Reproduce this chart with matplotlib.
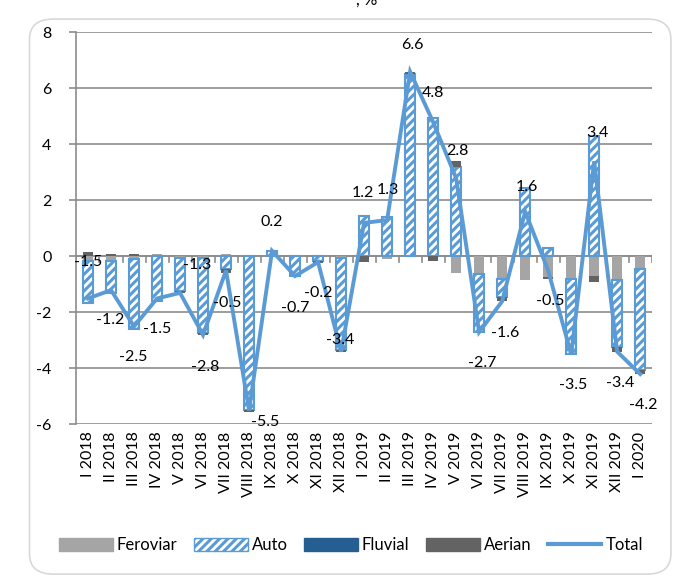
import matplotlib
matplotlib.use("Agg")
import matplotlib.pyplot as plt
import numpy as np
from matplotlib.patches import FancyBboxPatch, Patch
from matplotlib.lines import Line2D

plt.rcParams['font.family'] = ['Lato', 'DejaVu Sans']
plt.rcParams['hatch.linewidth'] = 2.2

months = ["I 2018", "II 2018", "III 2018", "IV 2018", "V 2018", "VI 2018",
          "VII 2018", "VIII 2018", "IX 2018", "X 2018", "XI 2018", "XII 2018",
          "I 2019", "II 2019", "III 2019", "IV 2019", "V 2019", "VI 2019",
          "VII 2019", "VIII 2019", "IX 2019", "X 2019", "XI 2019", "XII 2019",
          "I 2020"]

feroviar = [-0.15, -0.15, -0.1, 0.1, -0.05, -0.05, 0.1, 0.05, 0.0, 0.0, 0.05, -0.05,
            0.0, -0.1, 0.0, 0.0, -0.6, -0.62, -0.8, -0.85, -0.75, -0.8, -0.7, -0.85, -0.45]
auto = [-1.5, -1.15, -2.5, -1.6, -1.2, -2.7, -0.45, -5.5, 0.2, -0.7, -0.15, -3.3,
        1.45, 1.4, 6.5, 4.95, 3.2, -2.08, -0.65, 2.45, 0.3, -2.7, 4.3, -2.4, -3.6]
fluvial = [0.0] * 25
aerian = [0.15, 0.1, 0.1, 0.0, -0.05, -0.05, -0.15, -0.05, 0.0, 0.0, -0.1, -0.05,
          -0.2, 0.0, 0.1, -0.15, 0.2, 0.0, -0.15, 0.0, -0.05, 0.0, -0.2, -0.15, -0.15]
total = [-1.5, -1.2, -2.5, -1.5, -1.3, -2.8, -0.5, -5.5, 0.2, -0.7, -0.2, -3.4,
         1.2, 1.3, 6.6, 4.8, 2.8, -2.7, -1.6, 1.6, -0.5, -3.5, 3.4, -3.4, -4.2]

# label placement offsets (category units, value units) relative to each Total point
label_dx = [0.0, -0.04, -0.04, 0.0, 0.74, 0.09, 0.04, 0.7, 0.0, 0.0, 0.0, -0.04,
            -0.04, 0.04, 0.09, 0.0, 0.04, 0.13, 0.13, 0.09, 0.09, 0.09, 0.13, 0.13, 0.13]
label_dy = [1.29, -1.07, -1.1, -1.1, 1.0, -1.15, -1.16, -0.4, 1.03, -1.14, -1.1, 0.42,
            1.07, 1.08, 0.95, 1.04, 0.97, -1.1, -1.15, 0.88, -1.1, -1.1, 1.0, -1.12, -1.1]

C_FER = '#A5A5A5'
C_AUTO = '#5B9BD5'
C_FLU = '#255E91'
C_AER = '#636363'

fig = plt.figure(figsize=(6.86, 5.77), dpi=100)
# rounded outer frame
frame = FancyBboxPatch((0.043, 0.005), 0.935, 0.962, boxstyle="round,pad=0,rounding_size=0.035",
                       transform=fig.transFigure, facecolor='white', edgecolor='#D9D9D9',
                       linewidth=1.2, zorder=-10)
fig.patches.append(frame)

# title cut off by the top edge of the picture (only the lowest part is visible)
fig.text(0.535, 0.992, ", %", ha='center', va='baseline', fontsize=12, color='black')

ax = fig.add_axes([0.1115, 0.2643, 0.8385, 0.6794])
ax.set_facecolor('none')
ax.set_zorder(2)

x = np.arange(len(months))
w = 0.46
pos_base = np.zeros(len(months))
neg_base = np.zeros(len(months))

def stack(vals, **kw):
    global pos_base, neg_base
    v = np.array(vals, dtype=float)
    bottom = np.where(v >= 0, pos_base, neg_base)
    bars = ax.bar(x, v, w, bottom=bottom, zorder=3, **kw)
    pos_base = pos_base + np.where(v > 0, v, 0)
    neg_base = neg_base + np.where(v < 0, v, 0)
    return bars

stack(feroviar, color=C_FER, linewidth=0)
stack(auto, facecolor='white', edgecolor=C_AUTO, hatch='////', linewidth=1.5)
stack(fluvial, color=C_FLU, linewidth=0)
stack(aerian, color=C_AER, linewidth=0)

ax.plot(x, total, color=C_AUTO, linewidth=2.8, zorder=4, solid_joinstyle='miter')

for i, t in enumerate(total):
    ax.text(x[i] + label_dx[i], t + label_dy[i], f"{t:.1f}", ha='center', va='center',
            fontsize=11.5, color='black', zorder=5)

ax.set_xlim(-0.5, len(months) - 0.5)
ax.set_ylim(-6, 8)
ax.set_yticks(np.arange(-6, 9, 2))
ax.set_yticklabels([str(v) for v in range(-6, 9, 2)], fontsize=11.5)
ax.grid(axis='y', color='#8C8C8C', linewidth=1.2, zorder=0)
ax.set_axisbelow(True)

for s in ['top', 'right', 'bottom']:
    ax.spines[s].set_visible(False)
ax.spines['left'].set_color('#8C8C8C')
ax.spines['left'].set_linewidth(1.2)
ax.tick_params(axis='y', length=5, color='#8C8C8C', width=1.2, pad=13)

# category axis through zero with boundary ticks
ax.axhline(0, color='#8C8C8C', linewidth=1.2, zorder=2)
for b in np.arange(-0.5, len(months), 1.0):
    ax.plot([b, b], [0, -0.18], color='#8C8C8C', linewidth=1.2, zorder=2)

ax.set_xticks(x)
ax.set_xticklabels(months, rotation=90, fontsize=11.5, va='top')
ax.tick_params(axis='x', length=0, pad=5)

handles = [Patch(facecolor=C_FER, edgecolor=C_FER),
           Patch(facecolor='white', edgecolor=C_AUTO, hatch='////'),
           Patch(facecolor=C_FLU, edgecolor=C_FLU),
           Patch(facecolor=C_AER, edgecolor=C_AER),
           Line2D([0], [0], color=C_AUTO, linewidth=3)]
fig.legend(handles, ["Feroviar", "Auto", "Fluvial", "Aerian", "Total"],
           loc='center', bbox_to_anchor=(0.512, 0.055), ncol=5, frameon=False,
           fontsize=12, handlelength=3.2, handleheight=0.9, columnspacing=1.0,
           handletextpad=0.25)

fig.savefig("out.png", dpi=100)
